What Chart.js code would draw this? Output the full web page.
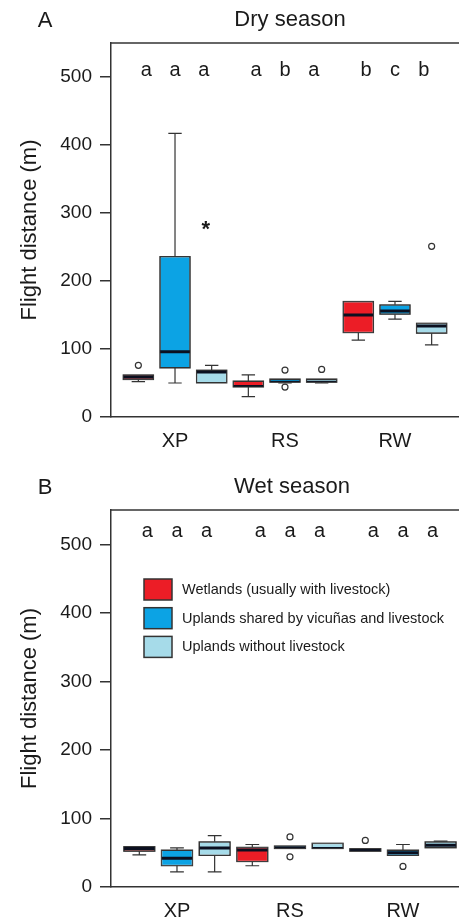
<!DOCTYPE html>
<html>
<head>
<meta charset="utf-8">
<script src="https://cdn.jsdelivr.net/npm/chart.js@4.4.1/dist/chart.umd.min.js"></script>
<style>
  body { margin: 0; background: #fff; }
  canvas { display: block; }
</style>
</head>
<body>
<canvas id="dryChart" width="459" height="458"></canvas>
<canvas id="wetChart" width="459" height="459"></canvas>
<script>
const sites = ["XP", "RS", "RW"];
const habitats = [
  "Wetlands (usually with livestock)",
  "Uplands shared by vicuñas and livestock",
  "Uplands without livestock",
];
const habitatColors = ["#ec1d26", "#0ca3e4", "#a6dbe9"];
const yTicks = [0, 100, 200, 300, 400, 500];

// [lower whisker, Q1, median, Q3, upper whisker] for XP, RS, RW
const dryWetlands = [[52, 55, 59, 62, 62], [30, 44, 45, 53, 62], [113, 124, 150, 170, 170]];
const dryShared = [[50, 72, 96, 236, 417], [50, 51, 51, 56, 56], [144, 151, 156, 165, 170]];
const dryNoLivestock = [[50, 50, 66, 69, 76], [50, 51, 51, 56, 56], [106, 123, 134, 138, 138]];
// [habitat, site, value, symbol]
const dryOutliers = [[0, 0, 76, "o"], [1, 1, 69, "o"], [1, 1, 44, "o"], [2, 1, 70, "o"], [2, 0, 286, "*"], [2, 2, 251, "o"]];
const dryLetters = [["a", "a", "a"], ["a", "b", "a"], ["b", "c", "b"]];

const wetWetlands = [[47, 52, 56, 59, 59], [31, 37, 54, 58, 62], [52, 52, 54, 56, 56]];
const wetShared = [[22, 31, 42, 54, 57], [56, 56, 57, 60, 60], [46, 46, 50, 54, 62]];
const wetNoLivestock = [[22, 46, 57, 66, 75], [56, 56, 56, 64, 64], [57, 57, 61, 66, 67]];
const wetOutliers = [[1, 1, 73, "o"], [1, 1, 44, "o"], [0, 2, 68, "o"], [1, 2, 30, "o"]];
const wetLetters = [["a", "a", "a"], ["a", "a", "a"], ["a", "a", "a"]];

const FONT = "'Liberation Sans', Arial, sans-serif";
const INK = "#1a1a1a";
const LINE = "#333";

// whiskers, medians and outliers on top of the floating bars
const boxPlotPlugin = {
  id: "boxPlot",
  afterDatasetsDraw(chart, args, opts) {
    const { ctx, scales: { y } } = chart;
    ctx.save();
    opts.stats.forEach((habitat, h) => {
      const bars = chart.getDatasetMeta(h).data;
      habitat.forEach(([lo, q1, med, q3, hi], s) => {
        const { x: cx, width } = bars[s].getProps(["x", "width"], true);
        const cap = width * 0.22;
        ctx.strokeStyle = LINE;
        ctx.lineWidth = 1.2;
        [[q3, hi], [q1, lo]].forEach(([from, to]) => {
          if (from === to) return;
          const py = y.getPixelForValue(to);
          ctx.beginPath();
          ctx.moveTo(cx, y.getPixelForValue(from));
          ctx.lineTo(cx, py);
          ctx.moveTo(cx - cap, py);
          ctx.lineTo(cx + cap, py);
          ctx.stroke();
        });
        const top = y.getPixelForValue(q3);
        const bot = y.getPixelForValue(q1);
        ctx.save();
        ctx.beginPath();
        ctx.rect(cx - width / 2, top, width, bot - top);
        ctx.clip();
        const my = y.getPixelForValue(med);
        ctx.strokeStyle = "#0b1020";
        ctx.lineWidth = 3;
        ctx.beginPath();
        ctx.moveTo(cx - width / 2, my);
        ctx.lineTo(cx + width / 2, my);
        ctx.stroke();
        ctx.restore();
        ctx.strokeStyle = LINE;
        ctx.lineWidth = 1;
        ctx.strokeRect(cx - width / 2, top, width, bot - top);
      });
    });
    opts.outliers.forEach(([h, s, v, mark]) => {
      const { x: cx } = chart.getDatasetMeta(h).data[s].getProps(["x"], true);
      const py = y.getPixelForValue(v);
      if (mark === "*") {
        ctx.fillStyle = INK;
        ctx.font = "bold 22px " + FONT;
        ctx.textAlign = "center";
        ctx.textBaseline = "alphabetic";
        ctx.fillText("*", cx - 6, py + 13);
      } else {
        ctx.beginPath();
        ctx.arc(cx, py, 3, 0, Math.PI * 2);
        ctx.fillStyle = "#fff";
        ctx.fill();
        ctx.strokeStyle = LINE;
        ctx.lineWidth = 1.2;
        ctx.stroke();
      }
    });
    ctx.restore();
  },
  afterDraw(chart, args, opts) {
    const { ctx, chartArea, scales: { x, y } } = chart;
    ctx.save();
    // top frame line
    ctx.strokeStyle = LINE;
    ctx.lineWidth = 1.5;
    ctx.beginPath();
    ctx.moveTo(chartArea.left, chartArea.top);
    ctx.lineTo(chartArea.right, chartArea.top);
    ctx.stroke();

    ctx.fillStyle = INK;
    ctx.textBaseline = "middle";
    ctx.textAlign = "center";
    ctx.font = "22px " + FONT;
    ctx.fillText(opts.panel, 45, opts.titleY + 1);
    ctx.fillText(opts.title, opts.titleX, opts.titleY);

    // significance letters
    ctx.font = "20px " + FONT;
    const ly = y.getPixelForValue(opts.letterLevel);
    opts.letters.forEach((group, s) => {
      group.forEach((letter, k) => {
        ctx.fillText(letter, x.getPixelForValue(s + (k - 1) * 0.262), ly);
      });
    });

    if (opts.legend) {
      ctx.font = "14.5px " + FONT;
      ctx.textAlign = "left";
      chart.data.datasets.forEach((ds, i) => {
        const top = chartArea.top + 69 + i * 28.7;
        ctx.fillStyle = ds.backgroundColor;
        ctx.fillRect(144, top, 28, 21);
        ctx.strokeStyle = LINE;
        ctx.lineWidth = 1.5;
        ctx.strokeRect(144, top, 28, 21);
        ctx.fillStyle = INK;
        ctx.fillText(ds.label, 182, top + 11);
      });
    }
    ctx.restore();
  },
};

function drawPanel(canvasId, p) {
  const stats = [p.wetlands, p.shared, p.noLivestock];
  return new Chart(document.getElementById(canvasId), {
    type: "bar",
    data: {
      datasets: stats.map((rows, h) => ({
        label: habitats[h],
        data: rows.map((r, i) => ({ x: i, y: [r[1], r[3]] })),
        backgroundColor: habitatColors[h],
        borderColor: LINE,
        borderWidth: 1,
        borderSkipped: false,
        categoryPercentage: 1,
        barPercentage: 0.83,
      })),
    },
    options: {
      responsive: false,
      animation: false,
      layout: { padding: { top: p.top, left: 0, right: 0, bottom: 0 } },
      plugins: {
        legend: { display: false },
        tooltip: { enabled: false },
        boxPlot: {
          stats: stats,
          outliers: p.outliers,
          letters: p.letters,
          letterLevel: p.letterLevel,
          panel: p.panel,
          title: p.title,
          titleX: p.titleX,
          titleY: p.titleY,
          legend: p.legend,
        },
      },
      scales: {
        x: {
          type: "linear",
          offset: false,
          min: p.xMin,
          max: p.xMax,
          afterFit: (s) => { s.height = p.axisHeight; },
          afterBuildTicks: (s) => { s.ticks = sites.map((_, i) => ({ value: i })); },
          border: { color: LINE, width: 1.5 },
          grid: { display: false },
          ticks: {
            callback: (v) => sites[v],
            padding: 4,
            color: INK,
            font: { family: FONT, size: 20 },
          },
        },
        y: {
          min: 0,
          max: 550,
          afterFit: (s) => { s.width = 111; },
          afterBuildTicks: (s) => { s.ticks = yTicks.map((v) => ({ value: v })); },
          border: { color: LINE, width: 1.5 },
          grid: { drawOnChartArea: false, tickLength: 11, color: LINE, lineWidth: 1.5 },
          ticks: { padding: 8, color: INK, font: { family: FONT, size: 19 } },
          title: {
            display: true,
            text: "Flight distance (m)",
            color: INK,
            font: { family: FONT, size: 22 },
            padding: { top: 17, bottom: 0 },
          },
        },
      },
    },
    plugins: [boxPlotPlugin],
  });
}

drawPanel("dryChart", {
  wetlands: dryWetlands, shared: dryShared, noLivestock: dryNoLivestock,
  outliers: dryOutliers, letters: dryLetters, letterLevel: 509,
  panel: "A", title: "Dry season", titleX: 290, titleY: 20,
  top: 43, axisHeight: 41, xMin: -0.582, xMax: 2.582, legend: false,
});

drawPanel("wetChart", {
  wetlands: wetWetlands, shared: wetShared, noLivestock: wetNoLivestock,
  outliers: wetOutliers, letters: wetLetters, letterLevel: 519,
  panel: "B", title: "Wet season", titleX: 292, titleY: 29,
  top: 52, axisHeight: 30, xMin: -0.584, xMax: 2.496, legend: true,
});
</script>
</body>
</html>
